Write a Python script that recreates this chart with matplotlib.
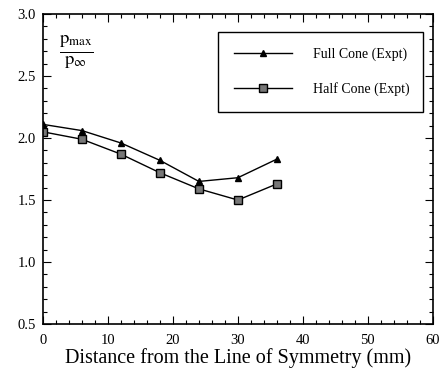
import matplotlib
matplotlib.use("Agg")
import matplotlib.pyplot as plt
from matplotlib.ticker import MultipleLocator

plt.rcParams['font.family'] = ['Liberation Serif', 'DejaVu Serif']
plt.rcParams['mathtext.fontset'] = 'stix'

distance = [0, 6, 12, 18, 24, 30, 36]
full_cone = [2.11, 2.06, 1.96, 1.82, 1.65, 1.68, 1.83]
half_cone = [2.05, 1.99, 1.87, 1.72, 1.59, 1.50, 1.63]
labels = ["Full Cone (Expt)", "Half Cone (Expt)"]

fig = plt.figure(figsize=(4.43, 3.79), dpi=100)
ax = fig.add_axes([0.097, 0.145, 0.88, 0.818])

ax.plot(distance, full_cone, color='black', lw=1.0, marker='^', ms=4,
        mfc='black', mec='black', label=labels[0])
ax.plot(distance, half_cone, color='black', lw=1.0, marker='s', ms=6,
        mfc='#777777', mec='black', mew=1.0, label=labels[1])

ax.set_xlim(0, 60)
ax.set_ylim(0.5, 3.0)
ax.xaxis.set_major_locator(MultipleLocator(10))
ax.xaxis.set_minor_locator(MultipleLocator(2))
ax.yaxis.set_major_locator(MultipleLocator(0.5))
ax.yaxis.set_minor_locator(MultipleLocator(0.1))
ax.set_yticks([0.5, 1.0, 1.5, 2.0, 2.5, 3.0])
ax.set_yticklabels(["0.5", "1.0", "1.5", "2.0", "2.5", "3.0"])
ax.tick_params(which='both', direction='in', top=True, right=True,
               labelsize=10.5, width=0.8)
ax.tick_params(which='major', length=6)
ax.tick_params(which='minor', length=3)
ax.tick_params(axis='x', pad=7)
ax.tick_params(axis='y', pad=5)
for s in ax.spines.values():
    s.set_linewidth(1.2)

ax.set_xlabel("Distance from the Line of Symmetry (mm)", fontsize=14.5, labelpad=1)

ax.text(0.085, 0.875, r'$\frac{\mathrm{p}_{\mathrm{max}}}{\mathrm{p}_{\infty}}$',
        transform=ax.transAxes, fontsize=19, ha='center', va='center')

leg = ax.legend(loc='upper left', bbox_to_anchor=(0.449, 0.70, 0.525, 0.242),
                mode='expand', borderaxespad=0, fontsize=10, handlelength=4.2,
                handletextpad=1.5, labelspacing=1.45, fancybox=False,
                edgecolor='black', framealpha=1, borderpad=1.15)
leg.get_frame().set_linewidth(1.0)

fig.savefig("out.png", dpi=100)
